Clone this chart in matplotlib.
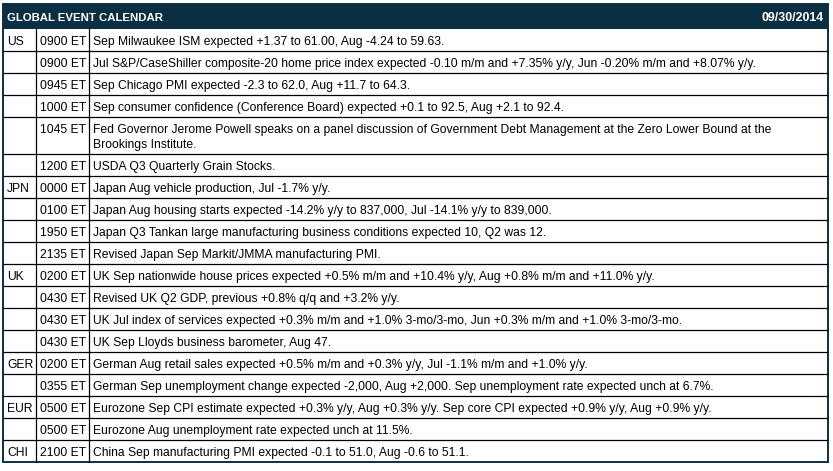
import matplotlib
matplotlib.use("Agg")
import matplotlib.pyplot as plt
from matplotlib.patches import Rectangle

title = "GLOBAL EVENT CALENDAR"
date_label = "09/30/2014"

countries = ["US", "", "", "", "", "", "JPN", "", "", "", "UK", "", "", "",
             "GER", "", "EUR", "", "CHI"]
times = ["0900 ET", "0900 ET", "0945 ET", "1000 ET", "1045 ET", "1200 ET",
         "0000 ET", "0100 ET", "1950 ET", "2135 ET",
         "0200 ET", "0430 ET", "0430 ET", "0430 ET",
         "0200 ET", "0355 ET", "0500 ET", "0500 ET", "2100 ET"]
events = [
    "Sep Milwaukee ISM expected +1.37 to 61.00, Aug -4.24 to 59.63.",
    "Jul S&P/CaseShiller composite-20 home price index expected -0.10 m/m and +7.35% y/y, Jun -0.20% m/m and +8.07% y/y.",
    "Sep Chicago PMI expected -2.3 to 62.0, Aug +11.7 to 64.3.",
    "Sep consumer confidence (Conference Board) expected +0.1 to 92.5, Aug +2.1 to 92.4.",
    "Fed Governor Jerome Powell speaks on a panel discussion of Government Debt Management at the Zero Lower Bound at the\nBrookings Institute.",
    "USDA Q3 Quarterly Grain Stocks.",
    "Japan Aug vehicle production, Jul -1.7% y/y.",
    "Japan Aug housing starts expected -14.2% y/y to 837,000, Jul -14.1% y/y to 839,000.",
    "Japan Q3 Tankan large manufacturing business conditions expected 10, Q2 was 12.",
    "Revised Japan Sep Markit/JMMA manufacturing PMI.",
    "UK Sep nationwide house prices expected +0.5% m/m and +10.4% y/y, Aug +0.8% m/m and +11.0% y/y.",
    "Revised UK Q2 GDP, previous +0.8% q/q and +3.2% y/y.",
    "UK Jul index of services expected +0.3% m/m and +1.0% 3-mo/3-mo, Jun +0.3% m/m and +1.0% 3-mo/3-mo.",
    "UK Sep Lloyds business barometer, Aug 47.",
    "German Aug retail sales expected +0.5% m/m and +0.3% y/y, Jul -1.1% m/m and +1.0% y/y.",
    "German Sep unemployment change expected -2,000, Aug +2,000. Sep unemployment rate expected unch at 6.7%.",
    "Eurozone Sep CPI estimate expected +0.3% y/y, Aug +0.3% y/y. Sep core CPI expected +0.9% y/y, Aug +0.9% y/y.",
    "Eurozone Aug unemployment rate expected unch at 11.5%.",
    "China Sep manufacturing PMI expected -0.1 to 51.0, Aug -0.6 to 51.1.",
]

navy = "#0b2f42"
W, H = 833, 471
fs = 8.72
font = "Liberation Sans"

fig = plt.figure(figsize=(W / 100, H / 100), dpi=100)
ax = fig.add_axes([0, 0, 1, 1])
ax.set_xlim(0, W)
ax.set_ylim(H, 0)
ax.axis("off")

left, right = 3, 828
col_x = [left, 36, 89, right]
top, head_h = 4, 25
row_h, line_h = 22, 14.7
base_off = 16.2

# header bar
ax.add_patch(Rectangle((left, top), right - left, head_h, color=navy, lw=0))
ax.text(7, top + 17.0, title, color="white", fontsize=8.2,
        fontweight="bold", family=font, va="baseline")
ax.text(824, top + 17.0, date_label, color="white", fontsize=8.9,
        fontweight="bold", family=font, va="baseline", ha="right")

y = top + head_h
for c, t, e in zip(countries, times, events):
    n = e.count("\n") + 1
    h = row_h + round(line_h) * (n - 1)
    ty = y + base_off
    ax.text(7, ty, c, fontsize=fs, family=font, va="baseline", color="black")
    ax.text(40, ty, t, fontsize=fs, family=font, va="baseline", color="black")
    for k, part in enumerate(e.split("\n")):
        ax.text(93, ty + k * line_h, part, fontsize=fs, family=font,
                va="baseline", color="black")
    y += h
    if y < 460:
        ax.plot([left, right], [y, y], color="black", lw=0.9, solid_capstyle="butt")
bottom = y

# vertical separators
for x in col_x[1:-1]:
    ax.plot([x, x], [top + head_h, bottom], color="black", lw=0.9)

# outer border
ax.add_patch(Rectangle((left, top), right - left, bottom - top, fill=False,
                       edgecolor=navy, lw=1.4))

fig.savefig("out.png", dpi=100)
